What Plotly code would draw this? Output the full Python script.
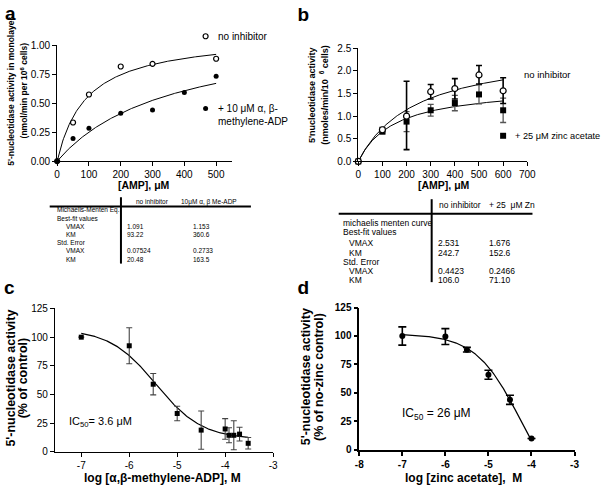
import numpy as np
import plotly.graph_objects as go

W, H = 609, 495
FONT = "Liberation Sans, Arial, sans-serif"

# ---------------- data ----------------
# Panel a
a_amp_open = [0, 50, 100, 200, 300, 500]
a_act_open = [0, 0.333, 0.574, 0.815, 0.838, 0.882]
a_amp_inh = [0, 50, 100, 200, 300, 400, 500]
a_act_inh = [0, 0.196, 0.283, 0.412, 0.44, 0.591, 0.731]
a_xticks = [0, 100, 200, 300, 400, 500]
a_yticks = [0, 0.25, 0.5, 0.75, 1.0]
a_yticktext = ["0.00", "0.25", "0.50", "0.75", "1.00"]

table_a_header = ["no inhibitor", "10μM α, β Me-ADP"]
table_a_labels = ["Michaelis-Menten Eq.", "Best-fit values", "VMAX", "KM", "Std. Error", "VMAX", "KM"]
table_a_col1 = ["", "", "1.091", "93.22", "", "0.07524", "20.48"]
table_a_col2 = ["", "", "1.153", "360.6", "", "0.2733", "163.5"]

# Panel b
b_amp = [0, 100, 200, 300, 400, 500, 600]
b_open = [0, 0.70, 1.00, 1.54, 1.61, 1.91, 1.56]
b_open_err_up = [0, 0.05, 0.77, 0.16, 0.22, 0.21, 0.29]
b_open_err_dn = [0, 0.05, 0.74, 0.16, 0.23, 0.20, 0.28]
b_zn = [0, 0.66, 0.88, 1.13, 1.29, 1.48, 1.13]
b_zn_err = [0, 0.05, 0.22, 0.13, 0.17, 0.21, 0.27]
b_xticks = [0, 100, 200, 300, 400, 500, 600, 700]
b_yticks = [0, 0.5, 1.0, 1.5, 2.0, 2.5]

table_b_header = ["no inhibitor", "+ 25  μM Zn"]
table_b_labels = ["michaelis menten curve", "Best-fit values", "VMAX", "KM", "Std. Error", "VMAX", "KM"]
table_b_col1 = ["", "", "2.531", "242.7", "", "0.4423", "106.0"]
table_b_col2 = ["", "", "1.676", "152.6", "", "0.2466", "71.10"]

# Panel c
c_log = [-7, -6, -5.5, -5, -4.5, -4, -3.92, -3.82, -3.7, -3.52]
c_act = [100, 92.5, 59, 33.5, 19, 20, 14.5, 14.5, 15.5, 7.5]
c_err = [0, 15.7, 9.3, 6.3, 16.7, 9, 6.5, 12.6, 6, 5]
c_top, c_bottom, c_hill = 107, 11, 0.9
c_ic50_uM = 3.6
c_xticks = [-7, -6, -5, -4, -3]
c_yticks = [0, 25, 50, 75, 100, 125]

# Panel d
d_log = [-7, -6, -5.5, -5, -4.5, -4]
d_act = [100, 99.5, 88, 66, 44, 10]
d_err = [8, 7, 2, 4, 4, 0]
d_top, d_bottom, d_hill, d_logmid = 102, -50, 0.83, -4.25
d_xticks = [-8, -7, -6, -5, -4, -3]
d_yticks = [0, 25, 50, 75, 100, 125]

panel_letters = ["a", "b", "c", "d"]


def px(x):
    return x / W


def py(y):
    return 1 - y / H


def mm(s, vmax, km):
    return vmax * s / (km + s)


fig = go.Figure()

# ---------- panel a ----------
sa = np.linspace(0, 500, 200)
fig.add_trace(go.Scatter(x=sa, y=mm(sa, float(table_a_col1[2]), float(table_a_col1[3])),
                         mode="lines", line=dict(color="black", width=1), xaxis="x", yaxis="y", showlegend=False))
fig.add_trace(go.Scatter(x=sa, y=mm(sa, float(table_a_col2[2]), float(table_a_col2[3])),
                         mode="lines", line=dict(color="black", width=1), xaxis="x", yaxis="y", showlegend=False))
fig.add_trace(go.Scatter(x=a_amp_open, y=a_act_open, mode="markers", cliponaxis=False,
                         marker=dict(symbol="circle", size=5, color="white", line=dict(color="black", width=1.2)),
                         xaxis="x", yaxis="y", showlegend=False))
fig.add_trace(go.Scatter(x=a_amp_inh, y=a_act_inh, mode="markers", cliponaxis=False,
                         marker=dict(symbol="circle", size=5, color="black"),
                         xaxis="x", yaxis="y", showlegend=False))

# ---------- panel b ----------
sb = np.linspace(0, 600, 200)
fig.add_trace(go.Scatter(x=sb, y=mm(sb, float(table_b_col1[2]), float(table_b_col1[3])),
                         mode="lines", line=dict(color="black", width=1), xaxis="x2", yaxis="y2", showlegend=False))
fig.add_trace(go.Scatter(x=sb, y=mm(sb, float(table_b_col2[2]), float(table_b_col2[3])),
                         mode="lines", line=dict(color="black", width=1), xaxis="x2", yaxis="y2", showlegend=False))
fig.add_trace(go.Scatter(x=b_amp, y=b_zn, mode="markers", cliponaxis=False,
                         error_y=dict(type="data", array=b_zn_err, color="#555555", thickness=1.3, width=3),
                         marker=dict(symbol="square", size=6, color="black"),
                         xaxis="x2", yaxis="y2", showlegend=False))
fig.add_trace(go.Scatter(x=b_amp, y=b_open, mode="markers", cliponaxis=False,
                         error_y=dict(type="data", array=b_open_err_up, arrayminus=b_open_err_dn,
                                      color="black", thickness=1.6, width=3),
                         marker=dict(symbol="circle", size=6, color="white", line=dict(color="black", width=1.2)),
                         xaxis="x2", yaxis="y2", showlegend=False))

# ---------- panel c ----------
c_logic50 = np.log10(c_ic50_uM * 1e-6)
sc = np.linspace(-7, -3.52, 200)
fig.add_trace(go.Scatter(x=sc, y=c_bottom + (c_top - c_bottom) / (1 + 10 ** (c_hill * (sc - c_logic50))),
                         mode="lines", line=dict(color="black", width=1.2), xaxis="x3", yaxis="y3", showlegend=False))
fig.add_trace(go.Scatter(x=c_log, y=c_act, mode="markers", cliponaxis=False,
                         error_y=dict(type="data", array=c_err, color="#444444", thickness=1.1, width=3),
                         marker=dict(symbol="square", size=5, color="black"),
                         xaxis="x3", yaxis="y3", showlegend=False))

# ---------- panel d ----------
sd = np.linspace(-7, -4, 200)
fig.add_trace(go.Scatter(x=sd, y=d_bottom + (d_top - d_bottom) / (1 + 10 ** (d_hill * (sd - d_logmid))),
                         mode="lines", line=dict(color="black", width=1.2), xaxis="x4", yaxis="y4", showlegend=False))
fig.add_trace(go.Scatter(x=d_log, y=d_act, mode="markers", cliponaxis=False,
                         error_y=dict(type="data", array=d_err, color="black", thickness=1.6, width=4),
                         marker=dict(symbol="circle", size=6, color="black"),
                         xaxis="x4", yaxis="y4", showlegend=False))

# ---------- legend keys and panel letters (overlay pixel axis) ----------
fig.add_trace(go.Scatter(x=[206], y=[31], mode="markers", cliponaxis=False,
                         marker=dict(symbol="circle", size=5, color="white", line=dict(color="black", width=1.2)),
                         xaxis="x5", yaxis="y5", showlegend=False, hoverinfo="skip"))
fig.add_trace(go.Scatter(x=[206], y=[105], mode="markers", cliponaxis=False,
                         marker=dict(symbol="circle", size=5, color="black"),
                         xaxis="x5", yaxis="y5", showlegend=False, hoverinfo="skip"))
fig.add_trace(go.Scatter(x=[510], y=[133], mode="markers", cliponaxis=False,
                         marker=dict(symbol="square", size=6, color="black"),
                         xaxis="x5", yaxis="y5", showlegend=False, hoverinfo="skip"))
fig.add_trace(go.Scatter(x=[1, 300, 0, 300], y=[9, 10, 290, 290], mode="text", text=panel_letters,
                         textposition="middle right", cliponaxis=False,
                         textfont=dict(family=FONT, size=19, color="black", weight="bold"),
                         xaxis="x5", yaxis="y5", showlegend=False, hoverinfo="skip"))


def axis(domain, rng, tickvals, ticktext=None, anchor=None, size=10, bold=False, lw=1):
    d = dict(domain=domain, range=rng, tickmode="array", tickvals=tickvals,
             showline=True, linecolor="black", linewidth=lw, ticks="outside", ticklen=4,
             tickwidth=lw, tickcolor="black", showgrid=False, zeroline=False, anchor=anchor,
             tickfont=dict(family=FONT, size=size, color="black",
                           weight="bold" if bold else "normal"))
    if ticktext is not None:
        d["ticktext"] = ticktext
    return d


layout = dict(
    width=W, height=H, margin=dict(l=0, r=0, t=0, b=0),
    paper_bgcolor="white", plot_bgcolor="rgba(0,0,0,0)", showlegend=False,
    font=dict(family=FONT, color="black"),
    xaxis=axis([px(54.3), px(233)], [0, 550], a_xticks, anchor="y"),
    yaxis=axis([py(159), py(40)], [0, 1.0], a_yticks, a_yticktext, anchor="x"),
    xaxis2=axis([px(362), px(534.7)], [0, 700], b_xticks, anchor="y2"),
    yaxis2=axis([py(159.3), py(43.3)], [0, 2.5], b_yticks, [f"{v:.1f}" for v in b_yticks], anchor="x2"),
    xaxis3=axis([px(52), px(275)], [-7.55, -3], c_xticks, [str(v) for v in c_xticks], anchor="y3"),
    yaxis3=axis([py(457), py(310)], [0, 125], c_yticks, anchor="x3"),
    xaxis4=axis([px(363), px(583)], [-8, -3], d_xticks, [str(v) for v in d_xticks], anchor="y4", bold=True, lw=1.5),
    yaxis4=axis([py(455), py(309)], [0, 125], d_yticks, anchor="x4", bold=True, lw=1.5),
    xaxis5=dict(domain=[0, 1], range=[0, W], visible=False, anchor="y5", fixedrange=True),
    yaxis5=dict(domain=[0, 1], range=[H, 0], visible=False, anchor="x5", fixedrange=True),
)

ann = []


def text(x, y, t, size, bold=False, xanchor="center", angle=0, yanchor="middle"):
    ann.append(dict(x=px(x), y=py(y), xref="paper", yref="paper", text=t, showarrow=False,
                    xanchor=xanchor, yanchor=yanchor, textangle=angle, borderpad=0,
                    font=dict(family=FONT, size=size, color="black", weight="bold" if bold else "normal")))


# panel a titles and legend
text(7, 87, "5'-nucleotidase activity in monolayer", 8.5, True, angle=-90)
text(21, 87, "(nmol/min per 10<sup>6</sup> cells)", 8.5, True, angle=-90)
text(143, 183, "[AMP], μM", 10.5, True)
text(218, 31, "no inhibitor", 10, False, "left")
text(218, 105, "+ 10 μM α, β-", 10, False, "left")
text(218, 118, "methylene-ADP", 10, False, "left")

# panel b titles and legend
text(315, 91, "5'nucleotidase activity", 9, True, angle=-90)
text(327, 91, "(nmoles/min/10  <sup>6</sup> cells)", 9, True, angle=-90)
text(450, 183, "[AMP], μM", 10.5, True)
text(530, 70, "no inhibitor", 9.5, False, "left")
text(521, 133, "+ 25 μM zinc acetate", 9.2, False, "left")

# table a
ta_rows_y = [209.3, 217.7, 226, 234, 242.7, 251, 259.3]
text(152, 200.5, table_a_header[0], 6.5)
text(209, 200.5, table_a_header[1], 6.5)
for i, lab in enumerate(table_a_labels):
    indent = 62 if lab in ("VMAX", "KM") else 53
    text(indent, ta_rows_y[i], lab, 6.5, False, "left")
    if table_a_col1[i]:
        text(125, ta_rows_y[i], table_a_col1[i], 6.5, False, "left")
    if table_a_col2[i]:
        text(192, ta_rows_y[i], table_a_col2[i], 6.5, False, "left")

# table b
tb_rows_y = [222.3, 231.3, 243, 252.7, 262, 271.3, 280.3]
text(443, 204, table_b_header[0], 8.5, False, "left")
text(495, 204, table_b_header[1], 8.5, False, "left")
for i, lab in enumerate(table_b_labels):
    indent = 352 if lab in ("VMAX", "KM") else 345
    text(indent, tb_rows_y[i], lab, 8.5, False, "left")
    if table_b_col1[i]:
        text(442, tb_rows_y[i], table_b_col1[i], 8.5, False, "left")
    if table_b_col2[i]:
        text(495, tb_rows_y[i], table_b_col2[i], 8.5, False, "left")

# panel c titles
text(7, 381, "5'-nucleotidase activity", 12.5, True, angle=-90)
text(19, 381, "(% of control)", 12.5, True, angle=-90)
text(162, 484, "log [α,β-methylene-ADP], M", 12, True)
text(65, 426, f"IC<sub>50</sub>= {c_ic50_uM} μM", 11, False, "left")

# panel d titles
text(308, 380, "5'-nucleotidase activity", 12.5, True, angle=-90)
text(322, 380, "(% of no-zinc control)", 12.5, True, angle=-90)
text(470, 484, "log [zinc acetate],  M", 12, True)
text(406, 418, "IC<sub>50</sub> = 26 μM", 12, False, "left")

layout["annotations"] = ann

shapes = [
    dict(type="line", xref="paper", yref="paper", x0=px(46.7), x1=px(252.3), y0=py(205.5), y1=py(205.5),
         line=dict(color="black", width=2)),
    dict(type="line", xref="paper", yref="paper", x0=px(119.5), x1=px(119.5), y0=py(196), y1=py(264),
         line=dict(color="black", width=2)),
    dict(type="line", xref="paper", yref="paper", x0=px(342), x1=px(540), y0=py(213), y1=py(213),
         line=dict(color="black", width=2)),
    dict(type="line", xref="paper", yref="paper", x0=px(437), x1=px(437), y0=py(198), y1=py(283),
         line=dict(color="black", width=2)),
]
layout["shapes"] = shapes

fig.update_layout(**layout)
fig.write_html("out.html", config={"displayModeBar": False},
               post_script="document.body.style.margin='0';document.body.style.overflow='hidden';")
